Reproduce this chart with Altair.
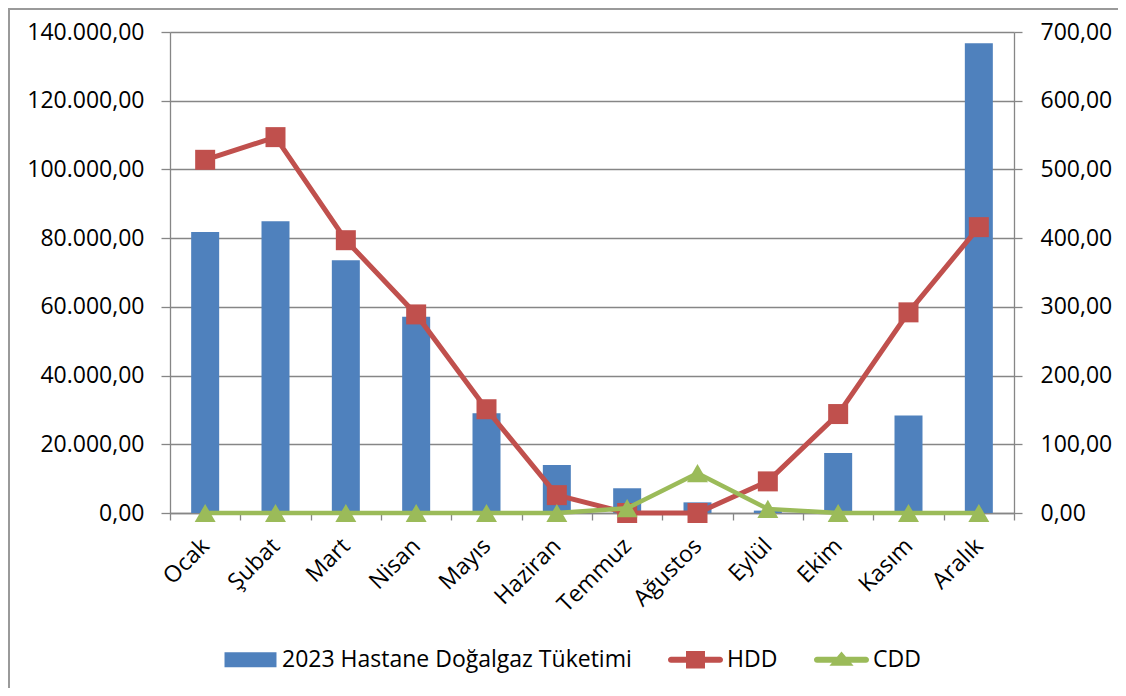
import altair as alt
import pandas as pd

months = ["Ocak", "Şubat", "Mart", "Nisan", "Mayıs", "Haziran",
          "Temmuz", "Ağustos", "Eylül", "Ekim", "Kasım", "Aralık"]
gas = [81800, 84900, 73600, 57100, 29000, 14000, 7200, 3100, 700, 17500, 28350, 136700]
hdd = [514, 547, 397, 289, 151, 26, 0, 0, 46, 144, 292, 416]
cdd = [0, 0, 0, 0, 0, 0, 7, 58, 6, 0, 0, 0]
series = ["2023 Hastane Doğalgaz Tüketimi", "HDD", "CDD"]
left_ticks = [0, 20000, 40000, 60000, 80000, 100000, 120000, 140000]
right_ticks = [0, 100, 200, 300, 400, 500, 600, 700]

BLUE = "#4F81BD"
RED = "#C0504D"
GREEN = "#9BBB59"
GREY = "#868686"
FONT = "Open Sans"
FS = 23

W, H = 844, 481
PL, PT = 162, 24

df = pd.DataFrame({"month": months, "gas": gas, "hdd": hdd, "cdd": cdd})
leg_df = pd.DataFrame({"series": series, "month": [months[0]] * 3, "val": [-100000] * 3})

x_enc = alt.X(
    "month:N", sort=months, title=None,
    scale=alt.Scale(paddingInner=0, paddingOuter=0),
    axis=alt.Axis(labelAngle=-45, labelAlign="right", labelBaseline="middle",
                  labelPadding=22, tickSize=7, tickBand="extent",
                  tickColor=GREY, domainColor=GREY, domainWidth=1.3, tickWidth=1.3,
                  labelFont=FONT, labelFontSize=FS, labelColor="black", grid=False),
)

left_scale = alt.Scale(domain=[0, 140000], nice=False, zero=True)
right_scale = alt.Scale(domain=[0, 700], nice=False, zero=True)

left_axis = alt.Axis(values=left_ticks, format=",.2f", grid=True, gridColor=GREY,
                     gridWidth=1.3, tickSize=9, tickColor=GREY, tickWidth=1.3,
                     domainColor=GREY, domainWidth=1.3, labelPadding=17,
                     labelFont=FONT, labelFontSize=FS, labelColor="black", title=None)
right_axis = alt.Axis(values=right_ticks, format=",.2f", grid=False, orient="right",
                      tickSize=8, tickColor=GREY, tickWidth=1.3,
                      domainColor=GREY, domainWidth=1.3, labelPadding=18,
                      labelFont=FONT, labelFontSize=FS, labelColor="black", title=None)

base = alt.Chart(df)

bars = base.mark_bar(size=28, color=BLUE).encode(
    x=x_enc, y=alt.Y("gas:Q", scale=left_scale, axis=left_axis)
)

bar_path = "M-0.945,-0.27H0.945V0.27H-0.945Z"
cap = "A0.11,0.11 0 0 1"
line_path = ("M-0.89,-0.11H0.89" + cap + " 0.89,0.11H-0.89" + cap + " -0.89,-0.11Z")
hdd_path = line_path + "M-0.345,-0.32H0.345V0.32H-0.345Z"
cdd_path = line_path + "M0,-0.3L0.44,0.22H-0.44Z"

leg = alt.Legend(title=None, orient="none", direction="horizontal",
                 legendX=53, legendY=600, symbolSize=3025,
                 symbolStrokeWidth=0, labelOffset=4, columnPadding=36,
                 labelFont=FONT, labelFontSize=FS, labelColor="black",
                 labelLimit=600)

legend_pts = alt.Chart(leg_df).mark_point(filled=True, opacity=1, clip=True).encode(
    x=x_enc,
    y=alt.Y("val:Q", scale=left_scale, axis=left_axis),
    color=alt.Color("series:N", scale=alt.Scale(domain=series, range=[BLUE, RED, GREEN]),
                    legend=leg),
    shape=alt.Shape("series:N", scale=alt.Scale(domain=series,
                                                range=[bar_path, hdd_path, cdd_path]),
                    legend=leg),
)

frame_left = alt.Chart(df).mark_rule(color="#9A9A9A", strokeWidth=1.5).encode(
    x=alt.value(-PL + 1), y=alt.value(-PT), y2=alt.value(696 - 16 - PT)
)
frame_top = alt.Chart(df).mark_rule(color="#9A9A9A", strokeWidth=1.5).encode(
    x=alt.value(-PL), x2=alt.value(1126 - 16 - PL), y=alt.value(-PT + 1)
)

left_group = alt.layer(bars, legend_pts, frame_left, frame_top)

hdd_line = base.mark_line(color=RED, strokeWidth=5).encode(
    x=x_enc, y=alt.Y("hdd:Q", scale=right_scale, axis=right_axis))
hdd_pts = base.mark_point(shape="square", size=400, filled=True, opacity=1, color=RED).encode(
    x=x_enc, y=alt.Y("hdd:Q", scale=right_scale, axis=right_axis))
cdd_line = base.mark_line(color=GREEN, strokeWidth=4.5).encode(
    x=x_enc, y=alt.Y("cdd:Q", scale=right_scale, axis=right_axis))
cdd_pts = base.mark_point(shape="triangle-up", size=440, filled=True, opacity=1, color=GREEN).encode(
    x=x_enc, y=alt.Y("cdd:Q", scale=right_scale, axis=right_axis))

right_group = alt.layer(hdd_line, hdd_pts, cdd_line, cdd_pts)

chart = alt.layer(left_group, right_group).resolve_scale(y="independent").properties(
    width=W, height=H,
    autosize=alt.AutoSizeParams(type="none"),
    padding={"left": PL, "top": PT, "right": 1126 - 16 - PL - W, "bottom": 696 - 16 - PT - H},
).configure(
    locale={"number": {"decimal": ",", "thousands": ".", "grouping": [3],
                       "currency": ["", " TL"]}}
).configure_view(strokeWidth=0)

chart.save("out.html", embed_options={"renderer": "svg", "actions": False})
